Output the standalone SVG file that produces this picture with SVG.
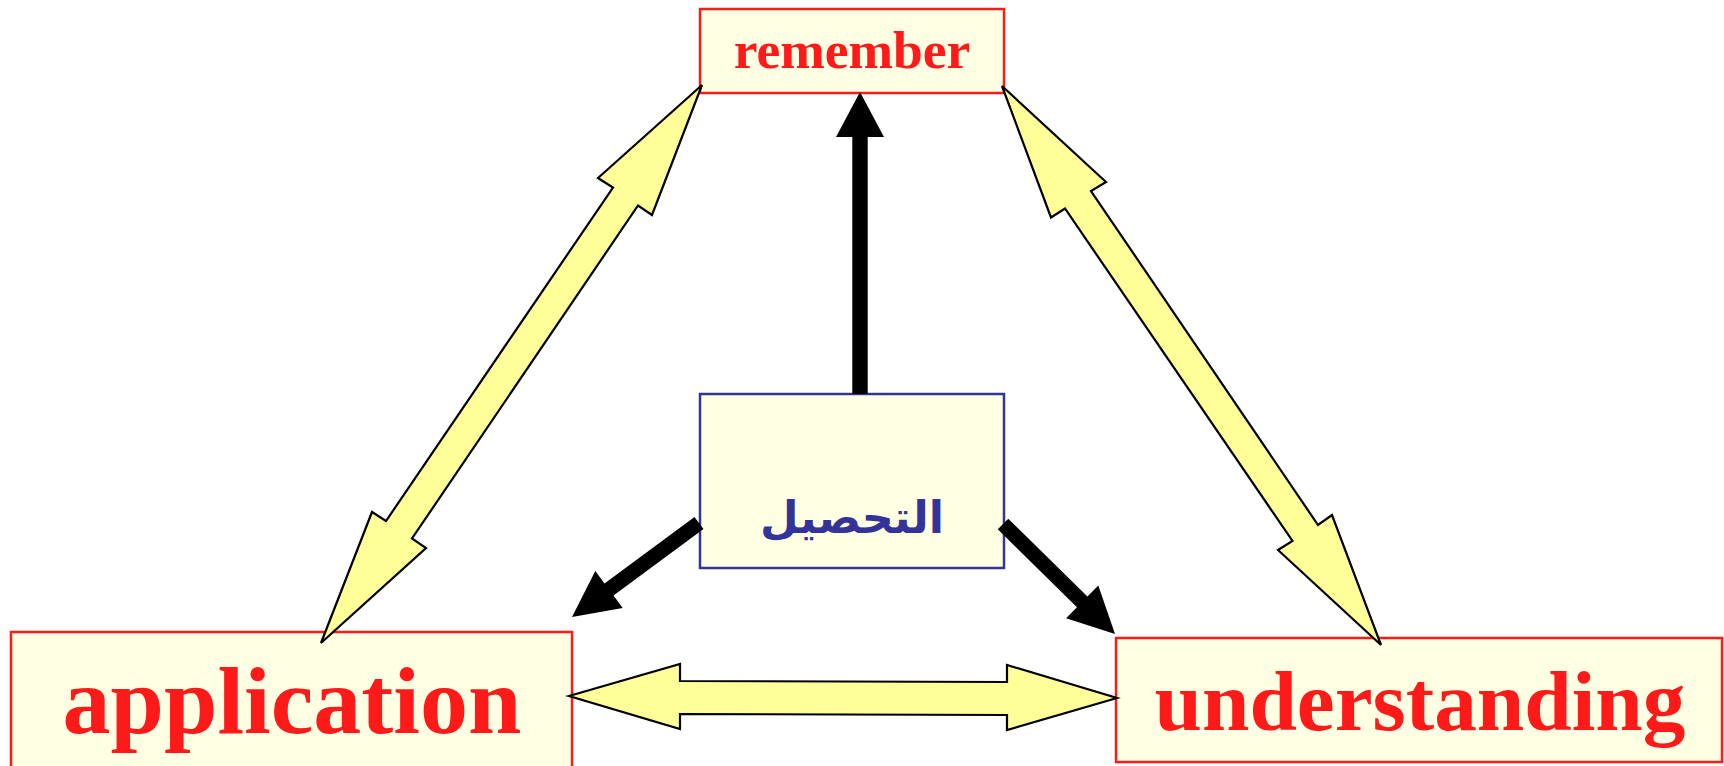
<svg xmlns="http://www.w3.org/2000/svg" width="1724" height="766" viewBox="0 0 1724 766">
  <style>
    .box { fill: #ffffe3; stroke: #ff1a1a; stroke-width: 2.5; }
    .cbox { fill: #ffffe3; stroke: #333399; stroke-width: 2.5; }
    .lbl { font-family: "Liberation Serif", "Times New Roman", serif; font-weight: bold; fill: #ff1a1a; text-anchor: middle; }
    .ar { font-family: "DejaVu Sans", sans-serif; font-weight: bold; fill: #333399; text-anchor: middle; }
    .dbl { fill: #ffff99; stroke: #000; stroke-width: 2.2; stroke-linejoin: miter; }
    .blk { fill: #000; stroke: none; }
  </style>
  <rect width="1724" height="766" fill="#ffffff"/>

  <g id="node-remember">
    <rect class="box" x="700" y="9" width="304" height="84"/>
    <text class="lbl" x="852" y="68" font-size="53.5">remember</text>
  </g>

  <g id="node-center">
    <rect class="cbox" x="700" y="394" width="304" height="174"/>
    <text class="ar" x="852" y="533" font-size="44.5" direction="rtl">التحصيل</text>
  </g>

  <g id="node-application">
    <rect class="box" x="11" y="632" width="561" height="140"/>
    <text class="lbl" x="292" y="733" font-size="96">application</text>
  </g>

  <g id="node-understanding">
    <rect class="box" x="1116" y="638" width="606" height="124"/>
    <text class="lbl" x="1420" y="730" font-size="85.3">understanding</text>
  </g>

  <g id="connectors">
    <!-- remember <-> application -->
    <polygon class="dbl" points="702,85 652,215 638,205.5 412,538.5 426,548 321,643 372,512 386,521 613,187.5 598,178"/>
    <!-- remember <-> understanding -->
    <polygon class="dbl" points="1002,86 1106,182 1091,191 1318,525 1332,515 1381,645 1278,550 1292.5,541 1065,208.5 1051,217.5"/>
    <!-- application <-> understanding -->
    <polygon class="dbl" points="569,696 680,664 680,681 1007,682 1007,665 1117,698 1007,730 1007,715 680,714 680,729"/>
    <!-- center -> remember -->
    <polygon class="blk" points="852.3,394 852.3,137 836,137 860,92 884,137 867.7,137 867.7,394"/>
    <!-- center -> application -->
    <polygon class="blk" points="703.5,529 613.5,595.6 622.7,608.1 572,617 595.3,571.1 604.5,583.6 694.5,517"/>
    <!-- center -> understanding -->
    <polygon class="blk" points="1008.25,518.65 1087.45,596.45 1098.3,585.4 1115,634 1066.1,618.2 1076.95,607.15 997.75,529.35"/>
  </g>
</svg>
